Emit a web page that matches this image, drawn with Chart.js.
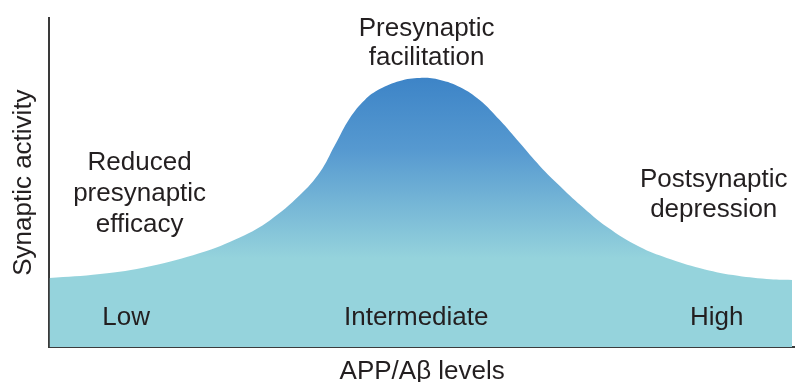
<!DOCTYPE html>
<html>
<head>
<meta charset="utf-8">
<script src="https://cdn.jsdelivr.net/npm/chart.js@4"></script>
<style>
    html, body { margin: 0; padding: 0; background: #fff; }
    #wrap { width: 795px; height: 382px; position: relative; }
</style>
</head>
<body>
<div id="wrap"><canvas id="SynapseChart"></canvas></div>
<script>
// APP/Abeta level (0-100, left to right) and synaptic activity (0-100)
const levels = [0, 6.8, 13.5, 20.2, 25.6, 29.6, 33.6, 36.3, 38.3, 40.3, 42.3, 44.3, 47.0, 49.7,
    52.4, 55.1, 57.7, 60.4, 63.1, 65.8, 68.5, 71.2, 74.8, 79.2, 82.8, 87.3, 91.7, 96.2, 99.6];
const activity = [21.0, 22.2, 24.6, 28.6, 33.4, 38.6, 46.2, 53.2, 61.4, 69.6, 75.1, 78.4, 80.9, 81.8,
    81.2, 79.0, 75.1, 69.0, 62.0, 55.0, 48.9, 43.2, 36.5, 30.4, 27.1, 24.0, 21.9, 20.7, 20.4];

// text placed on the plot, [text, x value, baseline y value]
const regionLabels = [
    ["Presynaptic", 50.6, 94.5],
    ["facilitation", 50.6, 85.7],
    ["Reduced", 12.1, 53.8],
    ["presynaptic", 12.1, 44.4],
    ["efficacy", 12.1, 35.0],
    ["Postsynaptic", 89.1, 48.6],
    ["depression", 89.1, 39.5],
    ["Low", 10.3, 6.7],
    ["Intermediate", 49.2, 6.7],
    ["High", 89.5, 6.7],
];

const FONT = "'Liberation Sans', Arial, Helvetica, sans-serif";
const TEXT_COLOR = "#231f20";

const labelPlugin = {
    id: "regionLabels",
    afterDraw(chart) {
        const { ctx, scales } = chart;
        ctx.save();
        ctx.font = "26px " + FONT;
        ctx.fillStyle = TEXT_COLOR;
        ctx.textAlign = "center";
        ctx.textBaseline = "alphabetic";
        regionLabels.forEach(([text, x, y]) => {
            ctx.fillText(text, scales.x.getPixelForValue(x), scales.y.getPixelForValue(y));
        });
        ctx.restore();
    },
};

function SynapseChart() {
    const ctx = document.getElementById("SynapseChart");

    new Chart(ctx, {
        type: "line",
        data: {
            datasets: [
                {
                    label: "Synaptic activity",
                    data: levels.map((x, i) => ({ x: x, y: activity[i] })),
                    fill: "origin",
                    borderWidth: 0,
                    borderColor: "rgba(0,0,0,0)",
                    pointRadius: 0,
                    tension: 0.4,
                    backgroundColor: (context) => {
                        const { chart } = context;
                        if (!chart.chartArea) return "#94d2dc";
                        const y = chart.scales.y;
                        const g = chart.ctx.createLinearGradient(0, y.getPixelForValue(82), 0, y.getPixelForValue(27));
                        g.addColorStop(0, "#3d84c7");
                        g.addColorStop(0.4, "#5699d0");
                        g.addColorStop(1, "#95d3dc");
                        return g;
                    },
                },
            ],
        },
        options: {
            responsive: true,
            maintainAspectRatio: false,
            animation: false,
            layout: {
                padding: { top: 18, left: 0, right: 0, bottom: 0 },
            },
            scales: {
                x: {
                    type: "linear",
                    min: 0,
                    max: 100,
                    z: 1,
                    ticks: { display: false },
                    grid: { display: false, drawTicks: false },
                    border: { display: true, color: "#3a3a3a", width: 2 },
                    title: {
                        display: true,
                        text: "APP/Aβ levels",
                        color: TEXT_COLOR,
                        font: { family: FONT, size: 26, lineHeight: 0.8 },
                        padding: { top: 14, bottom: 0 },
                    },
                },
                y: {
                    min: 0,
                    max: 100,
                    z: 1,
                    ticks: { display: false },
                    grid: { display: false, drawTicks: false },
                    border: { display: true, color: "#3a3a3a", width: 2 },
                    title: {
                        display: true,
                        text: "Synaptic activity",
                        color: TEXT_COLOR,
                        font: { family: FONT, size: 26, lineHeight: 0.8 },
                        padding: { top: 13.6, bottom: 15 },
                    },
                },
            },
            plugins: {
                legend: { display: false },
                tooltip: { enabled: false },
            },
        },
        plugins: [labelPlugin],
    });
}

SynapseChart()
</script>
</body>
</html>
